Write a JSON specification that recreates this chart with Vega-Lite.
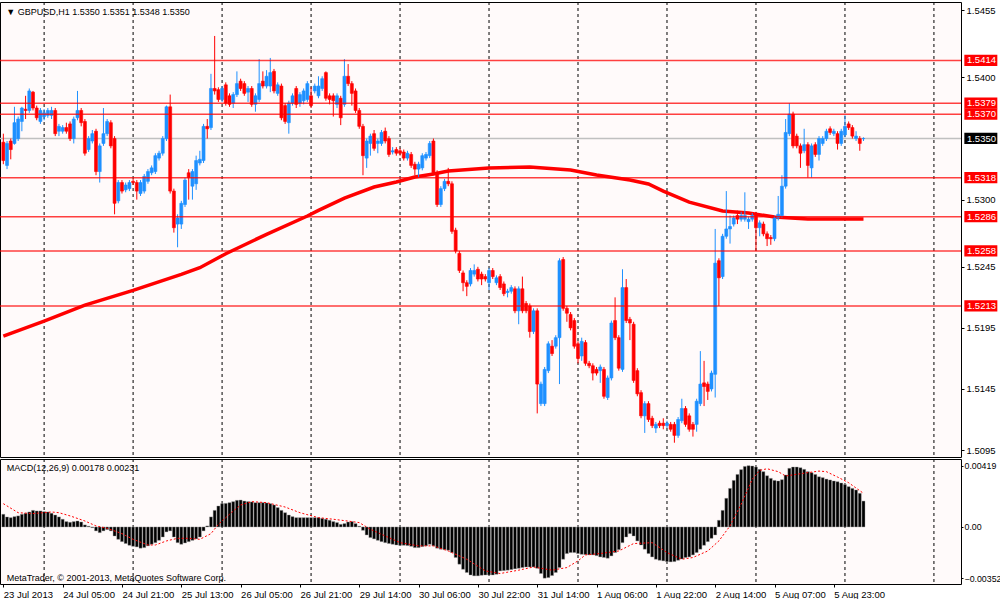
{
  "$schema": "https://vega.github.io/schema/vega-lite/v6.json",
  "background": "#ffffff",
  "padding": {"left": -5, "top": 1, "right": 0, "bottom": 0},
  "spacing": 2,
  "bounds": "flush",
  "datasets": {
    "bars": [
      {"i":0,"o":1.5347,"h":1.5354,"l":1.5329,"c":1.5332,"m":0.00087},
      {"i":1,"o":1.5328,"h":1.5348,"l":1.5325,"c":1.5346,"m":0.00069},
      {"i":2,"o":1.5348,"h":1.5350,"l":1.5333,"c":1.5341,"m":0.00064},
      {"i":3,"o":1.5346,"h":1.5376,"l":1.5345,"c":1.5363,"m":0.00071},
      {"i":4,"o":1.5350,"h":1.5368,"l":1.5348,"c":1.5366,"m":0.00076},
      {"i":5,"o":1.5364,"h":1.5376,"l":1.5356,"c":1.5375,"m":0.00087},
      {"i":6,"o":1.5374,"h":1.5385,"l":1.5366,"c":1.5373,"m":0.00094},
      {"i":7,"o":1.5373,"h":1.5391,"l":1.5371,"c":1.5389,"m":0.00103},
      {"i":8,"o":1.5388,"h":1.5389,"l":1.5373,"c":1.5375,"m":0.00114},
      {"i":9,"o":1.5375,"h":1.5377,"l":1.5365,"c":1.5367,"m":0.00110},
      {"i":10,"o":1.5364,"h":1.5375,"l":1.5362,"c":1.5373,"m":0.00110},
      {"i":11,"o":1.5368,"h":1.5374,"l":1.5365,"c":1.5371,"m":0.00105},
      {"i":12,"o":1.5369,"h":1.5375,"l":1.5367,"c":1.5373,"m":0.00103},
      {"i":13,"o":1.5369,"h":1.5376,"l":1.5366,"c":1.5373,"m":0.00094},
      {"i":14,"o":1.5373,"h":1.5375,"l":1.5352,"c":1.5354,"m":0.00082},
      {"i":15,"o":1.5356,"h":1.5362,"l":1.5352,"c":1.5360,"m":0.00069},
      {"i":16,"o":1.5356,"h":1.5361,"l":1.5354,"c":1.5359,"m":0.00053},
      {"i":17,"o":1.5359,"h":1.5363,"l":1.5354,"c":1.5356,"m":0.00037},
      {"i":18,"o":1.5362,"h":1.5364,"l":1.5348,"c":1.5350,"m":0.00032},
      {"i":19,"o":1.5350,"h":1.5368,"l":1.5346,"c":1.5366,"m":0.00037},
      {"i":20,"o":1.5367,"h":1.5389,"l":1.5365,"c":1.5373,"m":0.00041},
      {"i":21,"o":1.5373,"h":1.5375,"l":1.5360,"c":1.5363,"m":0.00034},
      {"i":22,"o":1.5364,"h":1.5366,"l":1.5336,"c":1.5338,"m":0.00014},
      {"i":23,"o":1.5341,"h":1.5352,"l":1.5339,"c":1.5350,"m":0.00005},
      {"i":24,"o":1.5348,"h":1.5357,"l":1.5346,"c":1.5354,"m":-0.00005},
      {"i":25,"o":1.5356,"h":1.5358,"l":1.5320,"c":1.5323,"m":-0.00027},
      {"i":26,"o":1.5323,"h":1.5346,"l":1.5314,"c":1.5344,"m":-0.00039},
      {"i":27,"o":1.5346,"h":1.5375,"l":1.5344,"c":1.5354,"m":-0.00027},
      {"i":28,"o":1.5354,"h":1.5366,"l":1.5352,"c":1.5364,"m":-0.00018},
      {"i":29,"o":1.5363,"h":1.5365,"l":1.5342,"c":1.5344,"m":-0.00027},
      {"i":30,"o":1.5350,"h":1.5352,"l":1.5288,"c":1.5297,"m":-0.00062},
      {"i":31,"o":1.5299,"h":1.5316,"l":1.5297,"c":1.5314,"m":-0.00085},
      {"i":32,"o":1.5314,"h":1.5316,"l":1.5305,"c":1.5307,"m":-0.00101},
      {"i":33,"o":1.5308,"h":1.5314,"l":1.5306,"c":1.5312,"m":-0.00114},
      {"i":34,"o":1.5309,"h":1.5316,"l":1.5307,"c":1.5314,"m":-0.00126},
      {"i":35,"o":1.5315,"h":1.5317,"l":1.5312,"c":1.5314,"m":-0.00133},
      {"i":36,"o":1.5314,"h":1.5316,"l":1.5300,"c":1.5307,"m":-0.00137},
      {"i":37,"o":1.5305,"h":1.5316,"l":1.5303,"c":1.5314,"m":-0.00146},
      {"i":38,"o":1.5307,"h":1.5321,"l":1.5305,"c":1.5319,"m":-0.00142},
      {"i":39,"o":1.5315,"h":1.5325,"l":1.5313,"c":1.5323,"m":-0.00130},
      {"i":40,"o":1.5322,"h":1.5328,"l":1.5320,"c":1.5326,"m":-0.00119},
      {"i":41,"o":1.5323,"h":1.5338,"l":1.5321,"c":1.5336,"m":-0.00108},
      {"i":42,"o":1.5334,"h":1.5340,"l":1.5332,"c":1.5338,"m":-0.00092},
      {"i":43,"o":1.5338,"h":1.5352,"l":1.5336,"c":1.5350,"m":-0.00069},
      {"i":44,"o":1.5350,"h":1.5377,"l":1.5348,"c":1.5376,"m":-0.00034},
      {"i":45,"o":1.5376,"h":1.5386,"l":1.5305,"c":1.5307,"m":-0.00027},
      {"i":46,"o":1.5307,"h":1.5309,"l":1.5273,"c":1.5277,"m":-0.00069},
      {"i":47,"o":1.5280,"h":1.5288,"l":1.5261,"c":1.5285,"m":-0.00108},
      {"i":48,"o":1.5280,"h":1.5299,"l":1.5276,"c":1.5297,"m":-0.00119},
      {"i":49,"o":1.5296,"h":1.5318,"l":1.5294,"c":1.5316,"m":-0.00110},
      {"i":50,"o":1.5322,"h":1.5325,"l":1.5300,"c":1.5318,"m":-0.00101},
      {"i":51,"o":1.5311,"h":1.5325,"l":1.5300,"c":1.5323,"m":-0.00092},
      {"i":52,"o":1.5313,"h":1.5336,"l":1.5308,"c":1.5332,"m":-0.00082},
      {"i":53,"o":1.5330,"h":1.5340,"l":1.5328,"c":1.5333,"m":-0.00069},
      {"i":54,"o":1.5332,"h":1.5362,"l":1.5330,"c":1.5360,"m":-0.00027},
      {"i":55,"o":1.5360,"h":1.5366,"l":1.5350,"c":1.5358,"m":0.00007},
      {"i":56,"o":1.5359,"h":1.5403,"l":1.5357,"c":1.5391,"m":0.00069},
      {"i":57,"o":1.5391,"h":1.5434,"l":1.5386,"c":1.5389,"m":0.00114},
      {"i":58,"o":1.5390,"h":1.5392,"l":1.5380,"c":1.5382,"m":0.00144},
      {"i":59,"o":1.5382,"h":1.5393,"l":1.5380,"c":1.5391,"m":0.00160},
      {"i":60,"o":1.5394,"h":1.5396,"l":1.5377,"c":1.5379,"m":0.00162},
      {"i":61,"o":1.5385,"h":1.5387,"l":1.5376,"c":1.5378,"m":0.00167},
      {"i":62,"o":1.5379,"h":1.5388,"l":1.5375,"c":1.5386,"m":0.00174},
      {"i":63,"o":1.5386,"h":1.5405,"l":1.5384,"c":1.5395,"m":0.00183},
      {"i":64,"o":1.5397,"h":1.5399,"l":1.5389,"c":1.5391,"m":0.00185},
      {"i":65,"o":1.5395,"h":1.5397,"l":1.5385,"c":1.5387,"m":0.00178},
      {"i":66,"o":1.5388,"h":1.5393,"l":1.5380,"c":1.5391,"m":0.00174},
      {"i":67,"o":1.5391,"h":1.5393,"l":1.5376,"c":1.5378,"m":0.00172},
      {"i":68,"o":1.5378,"h":1.5387,"l":1.5372,"c":1.5385,"m":0.00167},
      {"i":69,"o":1.5382,"h":1.5415,"l":1.5380,"c":1.5395,"m":0.00167},
      {"i":70,"o":1.5397,"h":1.5405,"l":1.5391,"c":1.5393,"m":0.00167},
      {"i":71,"o":1.5393,"h":1.5406,"l":1.5391,"c":1.5401,"m":0.00165},
      {"i":72,"o":1.5393,"h":1.5416,"l":1.5388,"c":1.5404,"m":0.00160},
      {"i":73,"o":1.5405,"h":1.5407,"l":1.5387,"c":1.5389,"m":0.00151},
      {"i":74,"o":1.5387,"h":1.5396,"l":1.5385,"c":1.5394,"m":0.00133},
      {"i":75,"o":1.5393,"h":1.5395,"l":1.5365,"c":1.5367,"m":0.00114},
      {"i":76,"o":1.5377,"h":1.5379,"l":1.5362,"c":1.5364,"m":0.00098},
      {"i":77,"o":1.5363,"h":1.5381,"l":1.5354,"c":1.5379,"m":0.00082},
      {"i":78,"o":1.5379,"h":1.5387,"l":1.5377,"c":1.5385,"m":0.00071},
      {"i":79,"o":1.5391,"h":1.5393,"l":1.5375,"c":1.5378,"m":0.00064},
      {"i":80,"o":1.5379,"h":1.5388,"l":1.5376,"c":1.5386,"m":0.00064},
      {"i":81,"o":1.5381,"h":1.5391,"l":1.5378,"c":1.5389,"m":0.00064},
      {"i":82,"o":1.5382,"h":1.5397,"l":1.5380,"c":1.5395,"m":0.00064},
      {"i":83,"o":1.5385,"h":1.5392,"l":1.5375,"c":1.5377,"m":0.00064},
      {"i":84,"o":1.5389,"h":1.5395,"l":1.5387,"c":1.5393,"m":0.00064},
      {"i":85,"o":1.5385,"h":1.5401,"l":1.5383,"c":1.5393,"m":0.00064},
      {"i":86,"o":1.5391,"h":1.5401,"l":1.5389,"c":1.5399,"m":0.00059},
      {"i":87,"o":1.5404,"h":1.5405,"l":1.5381,"c":1.5383,"m":0.00053},
      {"i":88,"o":1.5385,"h":1.5387,"l":1.5378,"c":1.5382,"m":0.00046},
      {"i":89,"o":1.5385,"h":1.5387,"l":1.5368,"c":1.5381,"m":0.00037},
      {"i":90,"o":1.5378,"h":1.5387,"l":1.5375,"c":1.5385,"m":0.00030},
      {"i":91,"o":1.5383,"h":1.5385,"l":1.5361,"c":1.5367,"m":0.00018},
      {"i":92,"o":1.5378,"h":1.5415,"l":1.5376,"c":1.5401,"m":0.00023},
      {"i":93,"o":1.5401,"h":1.5411,"l":1.5393,"c":1.5395,"m":0.00034},
      {"i":94,"o":1.5395,"h":1.5397,"l":1.5377,"c":1.5387,"m":0.00037},
      {"i":95,"o":1.5389,"h":1.5391,"l":1.5371,"c":1.5373,"m":0.00023},
      {"i":96,"o":1.5373,"h":1.5375,"l":1.5358,"c":1.5360,"m":0.00005},
      {"i":97,"o":1.5360,"h":1.5362,"l":1.5320,"c":1.5336,"m":-0.00023},
      {"i":98,"o":1.5334,"h":1.5350,"l":1.5326,"c":1.5348,"m":-0.00055},
      {"i":99,"o":1.5346,"h":1.5354,"l":1.5336,"c":1.5352,"m":-0.00073},
      {"i":100,"o":1.5354,"h":1.5357,"l":1.5340,"c":1.5342,"m":-0.00082},
      {"i":101,"o":1.5346,"h":1.5350,"l":1.5338,"c":1.5348,"m":-0.00092},
      {"i":102,"o":1.5346,"h":1.5357,"l":1.5344,"c":1.5355,"m":-0.00101},
      {"i":103,"o":1.5356,"h":1.5359,"l":1.5346,"c":1.5348,"m":-0.00108},
      {"i":104,"o":1.5350,"h":1.5352,"l":1.5335,"c":1.5337,"m":-0.00114},
      {"i":105,"o":1.5339,"h":1.5343,"l":1.5337,"c":1.5340,"m":-0.00119},
      {"i":106,"o":1.5341,"h":1.5343,"l":1.5336,"c":1.5338,"m":-0.00124},
      {"i":107,"o":1.5340,"h":1.5342,"l":1.5336,"c":1.5338,"m":-0.00126},
      {"i":108,"o":1.5339,"h":1.5341,"l":1.5332,"c":1.5334,"m":-0.00126},
      {"i":109,"o":1.5334,"h":1.5340,"l":1.5332,"c":1.5338,"m":-0.00128},
      {"i":110,"o":1.5337,"h":1.5339,"l":1.5326,"c":1.5328,"m":-0.00133},
      {"i":111,"o":1.5329,"h":1.5331,"l":1.5320,"c":1.5325,"m":-0.00142},
      {"i":112,"o":1.5325,"h":1.5331,"l":1.5318,"c":1.5329,"m":-0.00142},
      {"i":113,"o":1.5326,"h":1.5338,"l":1.5324,"c":1.5336,"m":-0.00135},
      {"i":114,"o":1.5334,"h":1.5339,"l":1.5332,"c":1.5337,"m":-0.00130},
      {"i":115,"o":1.5336,"h":1.5348,"l":1.5334,"c":1.5346,"m":-0.00119},
      {"i":116,"o":1.5348,"h":1.5350,"l":1.5320,"c":1.5322,"m":-0.00130},
      {"i":117,"o":1.5322,"h":1.5324,"l":1.5294,"c":1.5296,"m":-0.00146},
      {"i":118,"o":1.5296,"h":1.5311,"l":1.5294,"c":1.5309,"m":-0.00153},
      {"i":119,"o":1.5309,"h":1.5317,"l":1.5307,"c":1.5315,"m":-0.00156},
      {"i":120,"o":1.5315,"h":1.5326,"l":1.5311,"c":1.5313,"m":-0.00160},
      {"i":121,"o":1.5313,"h":1.5315,"l":1.5272,"c":1.5274,"m":-0.00176},
      {"i":122,"o":1.5275,"h":1.5277,"l":1.5256,"c":1.5258,"m":-0.00210},
      {"i":123,"o":1.5256,"h":1.5258,"l":1.5240,"c":1.5242,"m":-0.00256},
      {"i":124,"o":1.5240,"h":1.5242,"l":1.5225,"c":1.5232,"m":-0.00291},
      {"i":125,"o":1.5232,"h":1.5234,"l":1.5221,"c":1.5229,"m":-0.00313},
      {"i":126,"o":1.5231,"h":1.5244,"l":1.5229,"c":1.5242,"m":-0.00330},
      {"i":127,"o":1.5239,"h":1.5247,"l":1.5237,"c":1.5242,"m":-0.00336},
      {"i":128,"o":1.5243,"h":1.5245,"l":1.5233,"c":1.5235,"m":-0.00336},
      {"i":129,"o":1.5239,"h":1.5241,"l":1.5230,"c":1.5235,"m":-0.00332},
      {"i":130,"o":1.5237,"h":1.5239,"l":1.5233,"c":1.5235,"m":-0.00330},
      {"i":131,"o":1.5232,"h":1.5244,"l":1.5226,"c":1.5242,"m":-0.00330},
      {"i":132,"o":1.5242,"h":1.5244,"l":1.5235,"c":1.5237,"m":-0.00330},
      {"i":133,"o":1.5232,"h":1.5238,"l":1.5230,"c":1.5236,"m":-0.00325},
      {"i":134,"o":1.5237,"h":1.5239,"l":1.5226,"c":1.5228,"m":-0.00302},
      {"i":135,"o":1.5231,"h":1.5233,"l":1.5221,"c":1.5223,"m":-0.00300},
      {"i":136,"o":1.5224,"h":1.5227,"l":1.5220,"c":1.5225,"m":-0.00297},
      {"i":137,"o":1.5225,"h":1.5230,"l":1.5223,"c":1.5228,"m":-0.00293},
      {"i":138,"o":1.5227,"h":1.5229,"l":1.5207,"c":1.5209,"m":-0.00288},
      {"i":139,"o":1.5209,"h":1.5229,"l":1.5198,"c":1.5227,"m":-0.00284},
      {"i":140,"o":1.5227,"h":1.5237,"l":1.5207,"c":1.5209,"m":-0.00279},
      {"i":141,"o":1.5215,"h":1.5217,"l":1.5207,"c":1.5209,"m":-0.00275},
      {"i":142,"o":1.5213,"h":1.5215,"l":1.5187,"c":1.5192,"m":-0.00275},
      {"i":143,"o":1.5192,"h":1.5211,"l":1.5190,"c":1.5209,"m":-0.00275},
      {"i":144,"o":1.5209,"h":1.5211,"l":1.5125,"c":1.5149,"m":-0.00284},
      {"i":145,"o":1.5133,"h":1.5151,"l":1.5131,"c":1.5149,"m":-0.00320},
      {"i":146,"o":1.5133,"h":1.5163,"l":1.5131,"c":1.5161,"m":-0.00352},
      {"i":147,"o":1.5160,"h":1.5184,"l":1.5158,"c":1.5182,"m":-0.00348},
      {"i":148,"o":1.5180,"h":1.5185,"l":1.5172,"c":1.5174,"m":-0.00334},
      {"i":149,"o":1.5180,"h":1.5189,"l":1.5178,"c":1.5187,"m":-0.00313},
      {"i":150,"o":1.5187,"h":1.5252,"l":1.5149,"c":1.5250,"m":-0.00279},
      {"i":151,"o":1.5251,"h":1.5253,"l":1.5209,"c":1.5211,"m":-0.00222},
      {"i":152,"o":1.5211,"h":1.5213,"l":1.5200,"c":1.5207,"m":-0.00183},
      {"i":153,"o":1.5206,"h":1.5208,"l":1.5193,"c":1.5195,"m":-0.00176},
      {"i":154,"o":1.5201,"h":1.5203,"l":1.5178,"c":1.5180,"m":-0.00176},
      {"i":155,"o":1.5182,"h":1.5184,"l":1.5166,"c":1.5170,"m":-0.00183},
      {"i":156,"o":1.5172,"h":1.5187,"l":1.5168,"c":1.5184,"m":-0.00188},
      {"i":157,"o":1.5183,"h":1.5185,"l":1.5164,"c":1.5166,"m":-0.00190},
      {"i":158,"o":1.5166,"h":1.5168,"l":1.5162,"c":1.5164,"m":-0.00192},
      {"i":159,"o":1.5164,"h":1.5166,"l":1.5152,"c":1.5158,"m":-0.00192},
      {"i":160,"o":1.5161,"h":1.5163,"l":1.5156,"c":1.5158,"m":-0.00197},
      {"i":161,"o":1.5160,"h":1.5165,"l":1.5150,"c":1.5163,"m":-0.00206},
      {"i":162,"o":1.5161,"h":1.5163,"l":1.5137,"c":1.5139,"m":-0.00210},
      {"i":163,"o":1.5138,"h":1.5156,"l":1.5136,"c":1.5154,"m":-0.00215},
      {"i":164,"o":1.5154,"h":1.5201,"l":1.5152,"c":1.5199,"m":-0.00199},
      {"i":165,"o":1.5201,"h":1.5220,"l":1.5185,"c":1.5187,"m":-0.00176},
      {"i":166,"o":1.5187,"h":1.5189,"l":1.5160,"c":1.5162,"m":-0.00156},
      {"i":167,"o":1.5161,"h":1.5243,"l":1.5159,"c":1.5228,"m":-0.00108},
      {"i":168,"o":1.5228,"h":1.5235,"l":1.5199,"c":1.5201,"m":-0.00069},
      {"i":169,"o":1.5202,"h":1.5204,"l":1.5185,"c":1.5199,"m":-0.00046},
      {"i":170,"o":1.5198,"h":1.5200,"l":1.5150,"c":1.5152,"m":-0.00062},
      {"i":171,"o":1.5160,"h":1.5162,"l":1.5139,"c":1.5141,"m":-0.00096},
      {"i":172,"o":1.5142,"h":1.5144,"l":1.5121,"c":1.5123,"m":-0.00124},
      {"i":173,"o":1.5123,"h":1.5135,"l":1.5109,"c":1.5133,"m":-0.00153},
      {"i":174,"o":1.5133,"h":1.5135,"l":1.5118,"c":1.5120,"m":-0.00183},
      {"i":175,"o":1.5121,"h":1.5123,"l":1.5113,"c":1.5115,"m":-0.00206},
      {"i":176,"o":1.5113,"h":1.5118,"l":1.5109,"c":1.5116,"m":-0.00222},
      {"i":177,"o":1.5117,"h":1.5119,"l":1.5113,"c":1.5115,"m":-0.00229},
      {"i":178,"o":1.5117,"h":1.5121,"l":1.5112,"c":1.5115,"m":-0.00233},
      {"i":179,"o":1.5115,"h":1.5119,"l":1.5113,"c":1.5117,"m":-0.00238},
      {"i":180,"o":1.5116,"h":1.5118,"l":1.5110,"c":1.5112,"m":-0.00240},
      {"i":181,"o":1.5116,"h":1.5118,"l":1.5101,"c":1.5107,"m":-0.00238},
      {"i":182,"o":1.5107,"h":1.5122,"l":1.5105,"c":1.5120,"m":-0.00229},
      {"i":183,"o":1.5119,"h":1.5137,"l":1.5117,"c":1.5129,"m":-0.00220},
      {"i":184,"o":1.5129,"h":1.5131,"l":1.5114,"c":1.5116,"m":-0.00210},
      {"i":185,"o":1.5123,"h":1.5125,"l":1.5110,"c":1.5112,"m":-0.00206},
      {"i":186,"o":1.5116,"h":1.5118,"l":1.5106,"c":1.5112,"m":-0.00192},
      {"i":187,"o":1.5116,"h":1.5137,"l":1.5110,"c":1.5135,"m":-0.00176},
      {"i":188,"o":1.5133,"h":1.5176,"l":1.5131,"c":1.5149,"m":-0.00153},
      {"i":189,"o":1.5150,"h":1.5168,"l":1.5131,"c":1.5147,"m":-0.00126},
      {"i":190,"o":1.5149,"h":1.5151,"l":1.5136,"c":1.5143,"m":-0.00101},
      {"i":191,"o":1.5145,"h":1.5160,"l":1.5143,"c":1.5158,"m":-0.00078},
      {"i":192,"o":1.5157,"h":1.5276,"l":1.5138,"c":1.5248,"m":-0.00055},
      {"i":193,"o":1.5250,"h":1.5252,"l":1.5213,"c":1.5236,"m":0.00046},
      {"i":194,"o":1.5237,"h":1.5272,"l":1.5235,"c":1.5270,"m":0.00114},
      {"i":195,"o":1.5270,"h":1.5307,"l":1.5268,"c":1.5276,"m":0.00197},
      {"i":196,"o":1.5276,"h":1.5287,"l":1.5264,"c":1.5278,"m":0.00265},
      {"i":197,"o":1.5280,"h":1.5287,"l":1.5278,"c":1.5285,"m":0.00320},
      {"i":198,"o":1.5287,"h":1.5291,"l":1.5280,"c":1.5284,"m":0.00361},
      {"i":199,"o":1.5284,"h":1.5290,"l":1.5282,"c":1.5287,"m":0.00394},
      {"i":200,"o":1.5284,"h":1.5306,"l":1.5282,"c":1.5287,"m":0.00416},
      {"i":201,"o":1.5282,"h":1.5286,"l":1.5276,"c":1.5284,"m":0.00421},
      {"i":202,"o":1.5284,"h":1.5289,"l":1.5282,"c":1.5287,"m":0.00419},
      {"i":203,"o":1.5288,"h":1.5290,"l":1.5258,"c":1.5277,"m":0.00412},
      {"i":204,"o":1.5277,"h":1.5283,"l":1.5270,"c":1.5281,"m":0.00396},
      {"i":205,"o":1.5280,"h":1.5282,"l":1.5270,"c":1.5272,"m":0.00380},
      {"i":206,"o":1.5272,"h":1.5274,"l":1.5262,"c":1.5268,"m":0.00352},
      {"i":207,"o":1.5269,"h":1.5271,"l":1.5263,"c":1.5268,"m":0.00334},
      {"i":208,"o":1.5268,"h":1.5287,"l":1.5266,"c":1.5285,"m":0.00320},
      {"i":209,"o":1.5285,"h":1.5303,"l":1.5283,"c":1.5288,"m":0.00316},
      {"i":210,"o":1.5287,"h":1.5320,"l":1.5285,"c":1.5311,"m":0.00325},
      {"i":211,"o":1.5311,"h":1.5366,"l":1.5309,"c":1.5355,"m":0.00357},
      {"i":212,"o":1.5354,"h":1.5379,"l":1.5352,"c":1.5370,"m":0.00403},
      {"i":213,"o":1.5370,"h":1.5372,"l":1.5342,"c":1.5344,"m":0.00412},
      {"i":214,"o":1.5352,"h":1.5354,"l":1.5342,"c":1.5344,"m":0.00412},
      {"i":215,"o":1.5344,"h":1.5346,"l":1.5326,"c":1.5338,"m":0.00407},
      {"i":216,"o":1.5340,"h":1.5358,"l":1.5338,"c":1.5345,"m":0.00396},
      {"i":217,"o":1.5345,"h":1.5347,"l":1.5318,"c":1.5328,"m":0.00380},
      {"i":218,"o":1.5326,"h":1.5346,"l":1.5318,"c":1.5344,"m":0.00373},
      {"i":219,"o":1.5345,"h":1.5347,"l":1.5335,"c":1.5337,"m":0.00361},
      {"i":220,"o":1.5337,"h":1.5352,"l":1.5332,"c":1.5350,"m":0.00345},
      {"i":221,"o":1.5346,"h":1.5352,"l":1.5344,"c":1.5350,"m":0.00339},
      {"i":222,"o":1.5350,"h":1.5358,"l":1.5348,"c":1.5356,"m":0.00329},
      {"i":223,"o":1.5358,"h":1.5360,"l":1.5353,"c":1.5355,"m":0.00323},
      {"i":224,"o":1.5354,"h":1.5358,"l":1.5352,"c":1.5356,"m":0.00316},
      {"i":225,"o":1.5354,"h":1.5356,"l":1.5341,"c":1.5346,"m":0.00311},
      {"i":226,"o":1.5346,"h":1.5358,"l":1.5344,"c":1.5356,"m":0.00302},
      {"i":227,"o":1.5353,"h":1.5369,"l":1.5351,"c":1.5360,"m":0.00291},
      {"i":228,"o":1.5362,"h":1.5364,"l":1.5357,"c":1.5359,"m":0.00277},
      {"i":229,"o":1.5359,"h":1.5361,"l":1.5350,"c":1.5352,"m":0.00265},
      {"i":230,"o":1.5350,"h":1.5356,"l":1.5348,"c":1.5352,"m":0.00254},
      {"i":231,"o":1.5350,"h":1.5352,"l":1.5340,"c":1.5346,"m":0.00231},
      {"i":232,"o":1.5350,"h":1.5351,"l":1.5348,"c":1.5350,"m":0.00178}
    ],
    "ma": [
      {"i":0,"v":1.51883},{"i":11,"v":1.52006},{"i":22,"v":1.52137},{"i":35,"v":1.52257},
      {"i":48,"v":1.52388},{"i":53,"v":1.52443},{"i":60,"v":1.52557},{"i":71,"v":1.52716},
      {"i":82,"v":1.52866},{"i":85,"v":1.52912},{"i":92,"v":1.53013},{"i":100,"v":1.53103},
      {"i":106,"v":1.53144},{"i":111,"v":1.53185},{"i":116,"v":1.53210},{"i":120,"v":1.53234},
      {"i":131,"v":1.53259},{"i":142,"v":1.53267},{"i":153,"v":1.53242},{"i":160,"v":1.53201},
      {"i":169,"v":1.53160},{"i":174,"v":1.53128},{"i":178,"v":1.53070},{"i":185,"v":1.52980},
      {"i":194,"v":1.52907},{"i":201,"v":1.52890},{"i":208,"v":1.52858},{"i":217,"v":1.52841},
      {"i":232,"v":1.52841}
    ],
    "sig": [
      {"i":0,"s":0.00160},{"i":4,"s":0.00098},{"i":8,"s":0.00092},{"i":13,"s":0.00103},
      {"i":15,"s":0.00098},{"i":18,"s":0.00076},{"i":22,"s":0.00041},{"i":25,"s":0.00007},
      {"i":28,"s":-0.00009},{"i":32,"s":-0.00046},{"i":35,"s":-0.00085},{"i":39,"s":-0.00124},
      {"i":41,"s":-0.00124},{"i":44,"s":-0.00096},{"i":47,"s":-0.00078},{"i":50,"s":-0.00078},
      {"i":53,"s":-0.00085},{"i":56,"s":-0.00046},{"i":58,"s":0.00018},{"i":61,"s":0.00087},
      {"i":64,"s":0.00151},{"i":67,"s":0.00174},{"i":71,"s":0.00167},{"i":76,"s":0.00137},
      {"i":80,"s":0.00098},{"i":85,"s":0.00064},{"i":89,"s":0.00053},{"i":94,"s":0.00037},
      {"i":96,"s":0.00030},{"i":99,"s":-0.00016},{"i":103,"s":-0.00062},{"i":107,"s":-0.00108},
      {"i":112,"s":-0.00130},{"i":116,"s":-0.00130},{"i":120,"s":-0.00165},{"i":125,"s":-0.00222},
      {"i":130,"s":-0.00302},{"i":134,"s":-0.00320},{"i":139,"s":-0.00297},{"i":143,"s":-0.00275},
      {"i":148,"s":-0.00297},{"i":152,"s":-0.00279},{"i":155,"s":-0.00233},{"i":157,"s":-0.00192},
      {"i":161,"s":-0.00183},{"i":166,"s":-0.00165},{"i":170,"s":-0.00114},{"i":175,"s":-0.00108},
      {"i":179,"s":-0.00176},{"i":183,"s":-0.00222},{"i":186,"s":-0.00210},{"i":190,"s":-0.00165},
      {"i":193,"s":-0.00096},{"i":196,"s":0.00007},{"i":199,"s":0.00156},{"i":202,"s":0.00327},
      {"i":204,"s":0.00389},{"i":206,"s":0.00400},{"i":209,"s":0.00380},{"i":211,"s":0.00350},
      {"i":215,"s":0.00366},{"i":220,"s":0.00384},{"i":222,"s":0.00380},{"i":225,"s":0.00343},
      {"i":228,"s":0.00304},{"i":232,"s":0.00231}
    ],
    "days": [
      {"i":11,"d":"24 Jul"},{"i":35,"d":"25 Jul"},{"i":59,"d":"26 Jul"},{"i":83,"d":"29 Jul"},
      {"i":107,"d":"30 Jul"},{"i":131,"d":"31 Jul"},{"i":155,"d":"1 Aug"},{"i":179,"d":"2 Aug"},
      {"i":203,"d":"5 Aug"},{"i":227,"d":"6 Aug"},{"i":251,"d":"7 Aug"}
    ],
    "tags": [
      {"v":1.5414,"t":"level"},{"v":1.5379,"t":"level"},{"v":1.5370,"t":"level"},
      {"v":1.5318,"t":"level"},{"v":1.5286,"t":"level"},{"v":1.5258,"t":"level"},
      {"v":1.5213,"t":"level"},{"v":1.5350,"t":"bid"}
    ]
  },
  "vconcat": [
    {
      "width": 961,
      "height": 455,
      "layer": [
        {
          "data": {"name": "days"},
          "mark": {"type": "rule", "color": "#000000", "strokeWidth": 1, "strokeDash": [3, 3]},
          "encoding": {
            "x": {"field": "i", "type": "quantitative", "scale": {"domain": [-0.9, 258.3], "nice": false, "zero": false, "padding": 0}, "axis": null}
          }
        },
        {
          "data": {"name": "tags"},
          "transform": [{"filter": "datum.t == 'bid'"}],
          "mark": {"type": "rule", "color": "#C0C0C0", "strokeWidth": 1.5},
          "encoding": {
            "y": {"field": "v", "type": "quantitative", "title": null, "scale": {"domain": [1.50893, 1.54618], "nice": false, "zero": false}}
          }
        },
        {
          "data": {"name": "ma"},
          "mark": {"type": "line", "color": "#FF0000", "strokeWidth": 3.5},
          "encoding": {
            "x": {"field": "i", "type": "quantitative", "axis": null},
            "y": {"field": "v", "type": "quantitative", "title": null}
          }
        },
        {
          "data": {"name": "bars"},
          "mark": {"type": "rule", "strokeWidth": 1},
          "encoding": {
            "x": {"field": "i", "type": "quantitative", "axis": null},
            "y": {"field": "l", "type": "quantitative", "title": null},
            "y2": {"field": "h"},
            "color": {"condition": {"test": "datum.c >= datum.o", "value": "#1E90FF"}, "value": "#FF0000"}
          }
        },
        {
          "data": {"name": "bars"},
          "mark": {"type": "bar", "size": 3, "strokeWidth": 0.6},
          "encoding": {
            "x": {"field": "i", "type": "quantitative", "axis": null},
            "y": {
              "field": "o", "type": "quantitative",
              "axis": {
                "orient": "right", "title": null, "domain": false, "grid": false,
                "values": [1.5455, 1.543, 1.54, 1.5325, 1.53, 1.5275, 1.5245, 1.522, 1.5195, 1.517, 1.5145, 1.512, 1.5095],
                "format": ".4f", "tickSize": 3, "tickColor": "#000000", "labelPadding": 2,
                "labelOverlap": false, "labelFlush": false,
                "labelFont": "Liberation Sans", "labelFontSize": 9.5, "labelColor": "#000000"
              }
            },
            "y2": {"field": "c"},
            "color": {"condition": {"test": "datum.c >= datum.o", "value": "#1E90FF"}, "value": "#FF0000"},
            "stroke": {"condition": {"test": "datum.c >= datum.o", "value": "#1E90FF"}, "value": "#FF0000"}
          }
        },
        {
          "data": {"name": "tags"},
          "transform": [{"filter": "datum.t == 'level'"}],
          "mark": {"type": "rule", "color": "#FF0000", "strokeWidth": 1.5, "opacity": 0.75},
          "encoding": {
            "y": {"field": "v", "type": "quantitative", "title": null}
          }
        },
        {
          "data": {"name": "tags"},
          "transform": [
            {"calculate": "datum.v + 0.00047", "as": "top"},
            {"calculate": "datum.v - 0.00045", "as": "bot"}
          ],
          "mark": {"type": "rect"},
          "encoding": {
            "x": {"datum": 259.2, "type": "quantitative", "axis": null},
            "x2": {"datum": 268.1},
            "y": {"field": "top", "type": "quantitative", "title": null},
            "y2": {"field": "bot"},
            "color": {"condition": {"test": "datum.t == 'bid'", "value": "#000000"}, "value": "#FF0000"}
          }
        },
        {
          "data": {"name": "tags"},
          "transform": [{"calculate": "format(datum.v, '.4f')", "as": "lab"}],
          "mark": {"type": "text", "align": "left", "baseline": "middle", "color": "#FFFFFF", "fontSize": 9.5},
          "encoding": {
            "x": {"datum": 259.9, "type": "quantitative", "axis": null},
            "y": {"field": "v", "type": "quantitative", "title": null},
            "text": {"field": "lab"}
          }
        },
        {
          "data": {"values": [{"t": "▼ GBPUSD,H1  1.5350 1.5351 1.5348 1.5350"}]},
          "mark": {"type": "text", "align": "left", "baseline": "middle", "color": "#000000", "fontSize": 9},
          "encoding": {
            "x": {"datum": 0.8, "type": "quantitative", "axis": null},
            "y": {"datum": 1.54535, "type": "quantitative", "title": null},
            "text": {"field": "t"}
          }
        }
      ]
    },
    {
      "width": 961,
      "height": 125,
      "layer": [
        {
          "data": {"name": "days"},
          "mark": {"type": "rule", "color": "#000000", "strokeWidth": 1, "strokeDash": [3, 3]},
          "encoding": {
            "x": {"field": "i", "type": "quantitative", "title": null, "scale": {"domain": [-0.9, 258.3], "nice": false, "zero": false, "padding": 0}}
          }
        },
        {
          "data": {"name": "bars"},
          "mark": {"type": "bar", "size": 3, "color": "#000000", "stroke": "#9A9A9A", "strokeWidth": 0.4},
          "encoding": {
            "x": {
              "field": "i", "type": "quantitative",
              "axis": {
                "orient": "bottom", "title": null, "domain": false, "grid": false,
                "values": [0, 16, 32, 48, 64, 80, 96, 112, 128, 144, 160, 176, 192, 208, 224],
                "labelExpr": "['23 Jul 2013','24 Jul 05:00','24 Jul 21:00','25 Jul 13:00','26 Jul 05:00','26 Jul 21:00','29 Jul 14:00','30 Jul 06:00','30 Jul 22:00','31 Jul 14:00','1 Aug 06:00','1 Aug 22:00','2 Aug 14:00','5 Aug 07:00','5 Aug 23:00'][round(datum.value / 16)]",
                "labelAlign": "left", "labelBaseline": "top", "tickSize": 3, "tickColor": "#000000", "labelPadding": 2,
                "labelOverlap": false, "labelFlush": false,
                "labelFont": "Liberation Sans", "labelFontSize": 9.5, "labelColor": "#000000"
              }
            },
            "y": {
              "field": "m", "type": "quantitative",
              "scale": {"domain": [-0.00392, 0.00467], "nice": false, "zero": false},
              "axis": {
                "orient": "right", "title": null, "domain": false, "grid": false,
                "values": [0.00419, 0, -0.00352],
                "labelExpr": "datum.value == 0 ? '0.00' : format(datum.value, '.5f')",
                "tickSize": 2, "tickColor": "#000000", "labelPadding": 1,
                "labelOverlap": false, "labelFlush": false,
                "labelFont": "Liberation Sans", "labelFontSize": 8.8, "labelColor": "#000000"
              }
            },
            "y2": {"datum": 0}
          }
        },
        {
          "data": {"name": "sig"},
          "mark": {"type": "line", "color": "#FF0000", "strokeWidth": 1, "strokeDash": [2, 2]},
          "encoding": {
            "x": {"field": "i", "type": "quantitative", "title": null},
            "y": {"field": "s", "type": "quantitative", "title": null}
          }
        },
        {
          "data": {"values": [
            {"t": "MACD(12,26,9) 0.00178 0.00231", "v": 0.00405},
            {"t": "MetaTrader, © 2001-2013, MetaQuotes Software Corp.", "v": -0.00350}
          ]},
          "mark": {"type": "text", "align": "left", "baseline": "middle", "color": "#000000", "fontSize": 9},
          "encoding": {
            "x": {"datum": 0.9, "type": "quantitative", "title": null},
            "y": {"field": "v", "type": "quantitative", "title": null},
            "text": {"field": "t"}
          }
        }
      ]
    }
  ],
  "config": {
    "font": "Liberation Sans",
    "view": {"stroke": "#000000", "strokeWidth": 1, "fill": "#FFFAFA"},
    "text": {"font": "Liberation Sans"}
  }
}
